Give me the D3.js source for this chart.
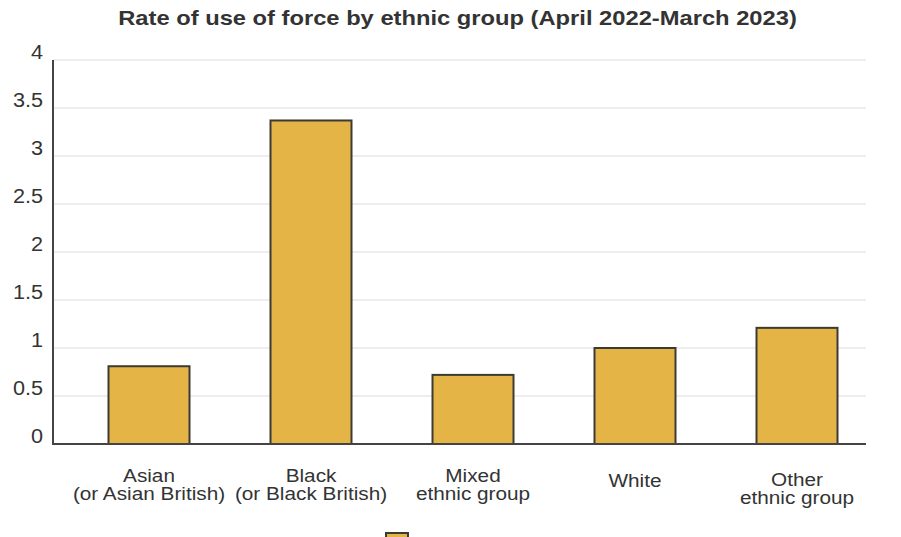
<!DOCTYPE html>
<html>
<head>
<meta charset="utf-8">
<script src="https://cdn.jsdelivr.net/npm/d3@7"></script>
<style>
  body { margin: 0; background: #fff; }
  svg { display: block; font-family: "Liberation Sans", Arial, sans-serif; }
</style>
</head>
<body>
<svg id="chart" width="901" height="537"></svg>
<script>
const groups = ["Asian", "Black", "Mixed", "White", "Other"];
const groupLabels = [
  ["Asian", "(or Asian British)"],
  ["Black", "(or Black British)"],
  ["Mixed", "ethnic group"],
  ["White"],
  ["Other", "ethnic group"]
];
const rates = [0.81, 3.37, 0.72, 1.0, 1.21];
const yTicks = [0, 0.5, 1, 1.5, 2, 2.5, 3, 3.5, 4];

const svg = d3.select('#chart');
const plotLeft = 53, plotRight = 866, plotTop = 60, plotBottom = 444;
const stretch = 1.11; // text in the source is a bit wide

const x = d3.scaleBand()
  .domain(groups)
  .range([68, 878])
  .paddingInner(0.5)
  .paddingOuter(0.25);

const y = d3.scaleLinear()
  .domain([0, 4])
  .range([plotBottom, plotTop]);

svg.append('text')
  .attr('transform', `translate(457.5,25) scale(1.13,1)`)
  .attr('text-anchor', 'middle')
  .attr('font-size', 21)
  .attr('font-weight', 'bold')
  .attr('fill', '#333')
  .text('Rate of use of force by ethnic group (April 2022-March 2023)');

// grid
svg.append('g').selectAll('line').data(yTicks.filter(d => d > 0))
  .join('line')
    .attr('x1', plotLeft).attr('x2', plotRight)
    .attr('y1', d => y(d)).attr('y2', d => y(d))
    .attr('stroke', '#dcdcdc').attr('stroke-width', 1);

// y labels
svg.append('g').selectAll('text').data(yTicks)
  .join('text')
    .attr('transform', d => `translate(43,${y(d) - 1}) scale(${stretch},1)`)
    .attr('text-anchor', 'end')
    .attr('font-size', 19.5)
    .attr('fill', '#333')
    .text(d => d);

// bars
svg.append('g').selectAll('rect').data(rates)
  .join('rect')
    .attr('x', (d, i) => x(groups[i]))
    .attr('y', d => y(d))
    .attr('width', x.bandwidth())
    .attr('height', d => y(0) - y(d))
    .attr('fill', '#e5b447')
    .attr('stroke', '#3b3a33')
    .attr('stroke-width', 2);

// axes lines
svg.append('line')
  .attr('x1', plotLeft).attr('x2', plotLeft).attr('y1', plotTop).attr('y2', plotBottom + 1)
  .attr('stroke', '#444').attr('stroke-width', 2);
svg.append('line')
  .attr('x1', plotLeft).attr('x2', plotRight).attr('y1', plotBottom).attr('y2', plotBottom)
  .attr('stroke', '#444').attr('stroke-width', 2);

// x labels
const lab = svg.append('g').selectAll('text').data(groupLabels)
  .join('text')
    .attr('transform', (d, i) => {
      const cx = x(groups[i]) + x.bandwidth() / 2;
      const by = d.length === 1 ? 487 : (i === 4 ? 486 : 482);
      return `translate(${cx},${by}) scale(${stretch},1)`;
    })
    .attr('text-anchor', 'middle')
    .attr('font-size', 18.7)
    .attr('fill', '#333');
lab.selectAll('tspan').data(d => d)
  .join('tspan')
    .attr('x', 0)
    .attr('dy', (d, i) => i === 0 ? 0 : 18.5)
    .text(d => d);

// legend swatch (cut off at bottom)
svg.append('rect')
  .attr('x', 386).attr('y', 533)
  .attr('width', 22).attr('height', 14)
  .attr('fill', '#e5b447')
  .attr('stroke', '#3b3a33')
  .attr('stroke-width', 2);
</script>
</body>
</html>
